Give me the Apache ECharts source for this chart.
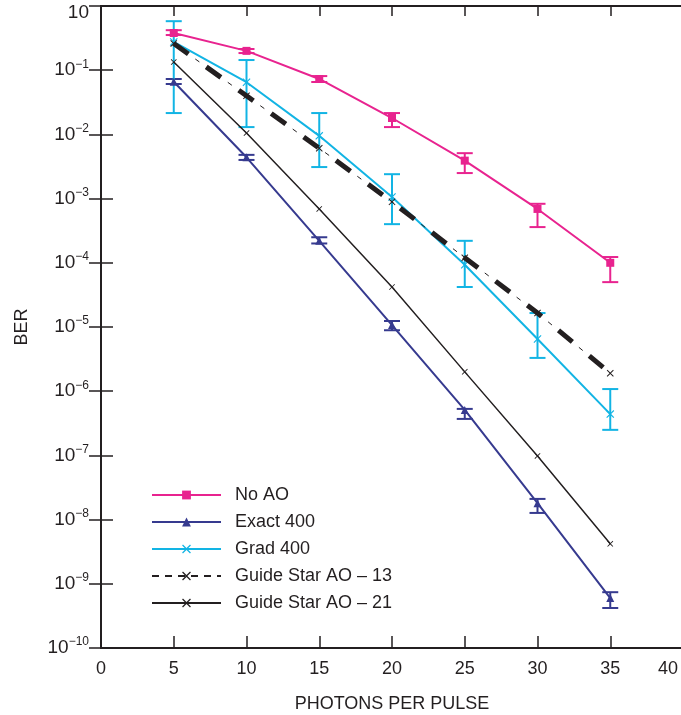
<!DOCTYPE html>
<html><head><meta charset="utf-8">
<script src="https://cdn.jsdelivr.net/npm/echarts@6/dist/echarts.min.js"></script>
<style>html,body{margin:0;padding:0;background:#fff}#c{width:681px;height:715px}</style>
</head><body><div id="c"></div>
<script>
const photons = [5, 10, 15, 20, 25, 30, 35];
const xTicks = [0, 5, 10, 15, 20, 25, 30, 35, 40];
const yTickExponents = [0, -1, -2, -3, -4, -5, -6, -7, -8, -9, -10];

const noAO      = [0.38, 0.20, 0.073, 0.018, 0.0039, 6.9e-4, 1.0e-4];
const noAOLow   = [0.353, 0.185, 0.0655, 0.013, 0.0025, 3.6e-4, 5.0e-5];
const noAOHigh  = [0.42, 0.214, 0.081, 0.0215, 0.0051, 8.3e-4, 1.23e-4];

const exact400     = [0.066, 0.0044, 2.2e-4, 1.07e-5, 5.1e-7, 1.8e-8, 6e-10];
const exact400Low  = [0.061, 0.0040, 2.0e-4, 8.9e-6, 3.7e-7, 1.27e-8, 4.2e-10];
const exact400High = [0.073, 0.0048, 2.5e-4, 1.24e-5, 5.3e-7, 2.1e-8, 7.4e-10];

const grad400     = [0.275, 0.065, 0.0095, 1.06e-3, 9.3e-5, 6.5e-6, 4.4e-7];
const grad400Low  = [0.0215, 0.013, 0.0031, 4.0e-4, 4.2e-5, 3.3e-6, 2.5e-7];
const grad400High = [0.58, 0.144, 0.0215, 0.0024, 2.2e-4, 1.65e-5, 1.08e-6];

const guide13 = [0.26, 0.040, 0.0061, 8.9e-4, 1.2e-4, 1.65e-5, 1.9e-6];
const guide21 = [0.134, 0.0105, 6.9e-4, 4.2e-5, 2.0e-6, 9.8e-8, 4.2e-9];

const names = ['No AO', 'Exact 400', 'Grad 400', 'Guide Star AO – 13', 'Guide Star AO – 21'];

const PINK = '#e8238f', BLUE = '#363a8f', CYAN = '#12b4e4', BLACK = '#231f20';
const FONT = 'Liberation Sans, Arial, sans-serif';
const XSYM = 'path://M1,0 L5,4 L9,0 L10,1 L6,5 L10,9 L9,10 L5,6 L1,10 L0,9 L4,5 L0,1 Z';

const pairs = v => photons.map((x, i) => [x, v[i]]);
const errData = (lo, hi) => photons.map((x, i) => [x, lo[i], hi[i]]);

function errSeries(lo, hi, color, name) {
  return {
    type: 'custom', name: name + ' err', z: 3,
    data: errData(lo, hi),
    encode: { x: 0, y: [1, 2] },
    renderItem: function (params, api) {
      const x = api.value(0);
      const a = api.coord([x, api.value(2)]);
      const b = api.coord([x, api.value(1)]);
      const w = 8;
      const st = { stroke: color, lineWidth: 2 };
      return { type: 'group', children: [
        { type: 'line', shape: { x1: a[0], y1: a[1], x2: b[0], y2: b[1] }, style: st },
        { type: 'line', shape: { x1: a[0] - w, y1: a[1], x2: a[0] + w, y2: a[1] }, style: st },
        { type: 'line', shape: { x1: b[0] - w, y1: b[1], x2: b[0] + w, y2: b[1] }, style: st }
      ]};
    }
  };
}

const yLabelFmt = function (v) {
  const e = Math.round(Math.log10(v));
  if (e === 0) return '{t|10}';
  return '{b|10}{s|−' + (-e) + '}';
};
const xLabelFmt = function (v) {
  return v === xTicks[xTicks.length - 1] ? '{r|' + v + '}' : String(v);
};

const chart = echarts.init(document.getElementById('c'), null, { renderer: 'canvas' });
chart.setOption({
  animation: false,
  backgroundColor: '#fff',
  grid: { left: 101, right: -2, top: 6, bottom: 67, outerBoundsMode: 'none', containLabel: false },
  legend: {
    orient: 'vertical', left: 151, top: 486, padding: 0,
    itemWidth: 69, itemHeight: 11, itemGap: 9,
    textStyle: { fontFamily: FONT, fontSize: 18, color: BLACK, padding: [0, 0, 0, 9] },
    data: [
      { name: names[0] },
      { name: names[1] },
      { name: names[2] },
      { name: names[3], lineStyle: { width: 2, type: [7, 6] } },
      { name: names[4] }
    ]
  },
  xAxis: [
    {
      type: 'value', min: xTicks[0], max: xTicks[xTicks.length - 1], interval: 5,
      name: 'PHOTONS PER PULSE', nameLocation: 'middle', nameGap: 47,
      nameTextStyle: { fontFamily: FONT, fontSize: 18, color: BLACK },
      axisLine: { lineStyle: { color: BLACK, width: 2 } },
      axisTick: { inside: true, length: 12, lineStyle: { color: BLACK, width: 1.5 } },
      axisLabel: { fontFamily: FONT, fontSize: 18, color: BLACK, margin: 12, formatter: xLabelFmt,
        rich: { r: { fontFamily: FONT, fontSize: 18, color: BLACK, padding: [0, 30, 0, 0] } } },
      splitLine: { show: false }
    },
    {
      type: 'value', position: 'top', min: 0, max: 40, interval: 5,
      axisLine: { lineStyle: { color: BLACK, width: 2 } },
      axisTick: { inside: true, length: 10, lineStyle: { color: BLACK, width: 1.5 } },
      axisLabel: { show: false }, splitLine: { show: false }
    }
  ],
  yAxis: [
    {
      type: 'log', logBase: 10, min: Math.pow(10, yTickExponents[yTickExponents.length - 1]),
      max: Math.pow(10, yTickExponents[0]), interval: 1,
      name: 'BER', nameLocation: 'middle', nameGap: 70, nameRotate: 90,
      nameTextStyle: { fontFamily: FONT, fontSize: 18, color: BLACK },
      axisLine: { lineStyle: { color: BLACK, width: 2 } },
      axisTick: { inside: true, length: 12, lineStyle: { color: BLACK, width: 1.5 } },
      minorTick: { show: false },
      axisLabel: {
        formatter: yLabelFmt, margin: 12, fontFamily: FONT, color: BLACK,
        rich: {
          b: { fontFamily: FONT, fontSize: 19, color: BLACK, lineHeight: 24 },
          s: { fontFamily: FONT, fontSize: 12, color: BLACK, lineHeight: 24, verticalAlign: 'top', padding: [0, 0, 10, 0] },
          t: { fontFamily: FONT, fontSize: 19, color: BLACK, padding: [14, 0, 0, 0] }
        }
      },
      splitLine: { show: false }
    },
    {
      type: 'log', logBase: 10, position: 'right', min: 1e-10, max: 1, interval: 1,
      axisLine: { show: true, lineStyle: { color: BLACK, width: 2 } },
      axisTick: { inside: true, length: 12, lineStyle: { color: BLACK, width: 1.5 } },
      axisLabel: { show: false }, splitLine: { show: false }
    }
  ],
  series: [
    errSeries(noAOLow, noAOHigh, PINK, names[0]),
    errSeries(exact400Low, exact400High, BLUE, names[1]),
    errSeries(grad400Low, grad400High, CYAN, names[2]),
    {
      name: names[0], type: 'line', data: pairs(noAO), z: 4,
      symbol: 'rect', symbolSize: 8,
      lineStyle: { color: PINK, width: 2 }, itemStyle: { color: PINK }
    },
    {
      name: names[1], type: 'line', data: pairs(exact400), z: 4,
      symbol: 'triangle', symbolSize: 8,
      lineStyle: { color: BLUE, width: 2 }, itemStyle: { color: BLUE }
    },
    {
      name: names[2], type: 'line', data: pairs(grad400), z: 4,
      symbol: XSYM, symbolSize: 8,
      lineStyle: { color: CYAN, width: 2 }, itemStyle: { color: CYAN }
    },
    {
      name: names[3], type: 'line', data: pairs(guide13), z: 5,
      symbol: XSYM, symbolSize: 7,
      lineStyle: { color: BLACK, width: 5, type: [18, 22] }, itemStyle: { color: BLACK }
    },
    {
      name: 'gs13thin', type: 'line', data: pairs(guide13), z: 5,
      symbol: 'none',
      lineStyle: { color: BLACK, width: 1, type: [5, 35], dashOffset: 13.5 }
    },
    {
      name: names[4], type: 'line', data: pairs(guide21), z: 4,
      symbol: XSYM, symbolSize: 6,
      lineStyle: { color: BLACK, width: 1.5 }, itemStyle: { color: BLACK }
    }
  ]
});
</script></body></html>
